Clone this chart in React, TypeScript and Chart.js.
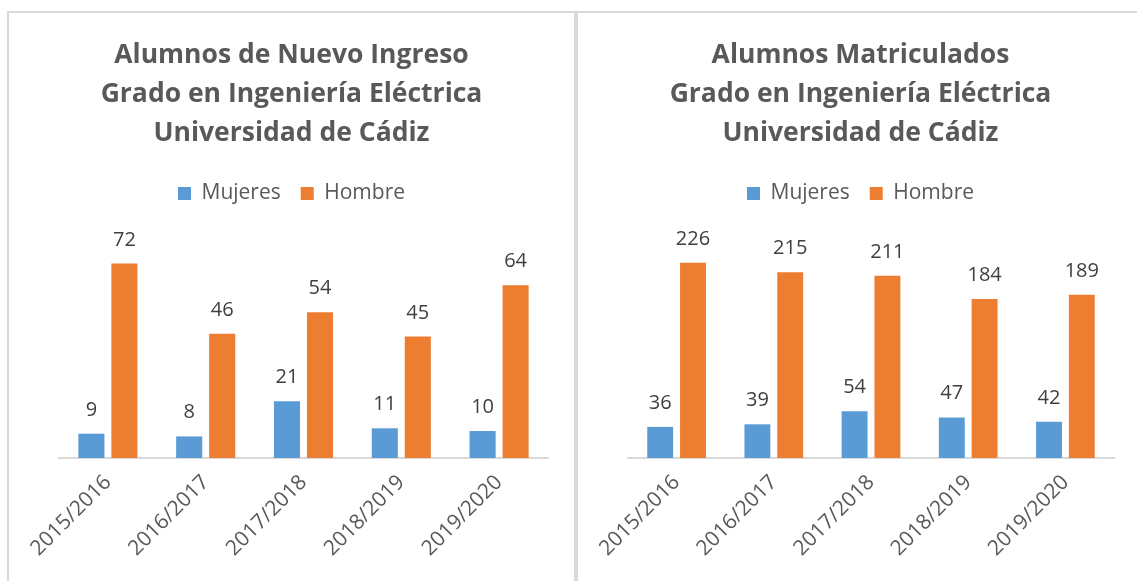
import React, { useEffect, useRef } from 'react';
import { Chart, registerables } from 'chart.js';

Chart.register(...registerables);

const categories = ['2015/2016', '2016/2017', '2017/2018', '2018/2019', '2019/2020'];
const seriesNames = ['Mujeres', 'Hombre'];
const nuevoMujeres = [9, 8, 21, 11, 10];
const nuevoHombre = [72, 46, 54, 45, 64];
const matMujeres = [36, 39, 54, 47, 42];
const matHombre = [226, 215, 211, 184, 189];
const titleNuevo = ['Alumnos de Nuevo Ingreso', 'Grado en Ingeniería Eléctrica', 'Universidad de Cádiz'];
const titleMatric = ['Alumnos Matriculados', 'Grado en Ingeniería Eléctrica', 'Universidad de Cádiz'];
const yMaxNuevo = 80;
const yMaxMatric = 250;

const FONT = 'Open Sans';
const CANVAS_W = 565;
const CANVAS_H = 568;

const valueLabels = {
  id: 'valueLabels',
  afterDatasetsDraw(chart: any) {
    const ctx = chart.ctx;
    ctx.save();
    ctx.font = `20px "${FONT}"`;
    ctx.fillStyle = '#404040';
    ctx.textAlign = 'center';
    ctx.textBaseline = 'alphabetic';
    chart.data.datasets.forEach((ds: any, i: number) => {
      const meta = chart.getDatasetMeta(i);
      meta.data.forEach((el: any, j: number) => {
        ctx.fillText(String(ds.data[j]), el.x, el.y - 18);
      });
    });
    ctx.restore();
  },
};

function BarPanel(props: { title: string[]; mujeres: number[]; hombre: number[]; yMax: number; rightGap: number }) {
  const ref = useRef<HTMLCanvasElement | null>(null);
  useEffect(() => {
    if (!ref.current) return;
    const chart = new Chart(ref.current, {
      type: 'bar',
      data: {
        labels: categories,
        datasets: [
          {
            label: seriesNames[0],
            data: props.mujeres,
            backgroundColor: '#5b9bd5',
            categoryPercentage: 0.675,
            barPercentage: 0.79,
            xAxisID: 'x',
            yAxisID: 'y',
          },
          {
            label: seriesNames[1],
            data: props.hombre,
            backgroundColor: '#ed7d31',
            categoryPercentage: 0.675,
            barPercentage: 0.79,
            xAxisID: 'x',
            yAxisID: 'y',
          },
        ],
      },
      options: {
        responsive: false,
        animation: false,
        layout: { padding: 0 },
        plugins: {
          title: {
            display: true,
            text: props.title,
            color: '#595959',
            font: { family: FONT, size: 26.5, weight: 'bold', lineHeight: 39 / 26.5 },
            padding: { top: 23, bottom: 10 },
          },
          legend: {
            display: true,
            position: 'top',
            labels: {
              color: '#595959',
              font: { family: FONT, size: 21 },
              boxWidth: 13,
              boxHeight: 13,
              padding: 20,
            },
          },
          tooltip: { enabled: false },
        },
        scales: {
          x: {
            type: 'category',
            position: 'bottom',
            grid: { display: false },
            border: { display: true, color: '#d9d9d9', width: 2 },
            ticks: {
              color: '#595959',
              font: { family: FONT, size: 21 },
              minRotation: 45,
              maxRotation: 45,
              autoSkip: false,
              padding: 4,
            },
            afterFit: (s: any) => {
              s.height = 123;
            },
          },
          xTop: {
            type: 'category',
            position: 'top',
            grid: { display: false },
            border: { display: false },
            ticks: { display: false },
            afterFit: (s: any) => {
              s.height = 28;
            },
          },
          y: {
            type: 'linear',
            position: 'left',
            min: 0,
            max: props.yMax,
            grid: { display: false },
            border: { display: false },
            ticks: { display: false },
            afterFit: (s: any) => {
              s.width = 50;
            },
          },
          yRight: {
            type: 'linear',
            position: 'right',
            grid: { display: false },
            border: { display: false },
            ticks: { display: false },
            afterFit: (s: any) => {
              s.width = props.rightGap;
            },
          },
        },
      } as any,
      plugins: [valueLabels],
    });
    return () => chart.destroy();
  }, []);
  return <canvas ref={ref} width={CANVAS_W} height={CANVAS_H} style={{ display: 'block' }} />;
}

export default function App() {
  const border = '2px solid #d9d9d9';
  return (
    <div
      style={{
        position: 'absolute',
        left: 0,
        top: 0,
        width: 1137,
        height: 581,
        overflow: 'hidden',
        background: '#ffffff',
      }}
    >
      <div
        style={{
          position: 'absolute',
          left: 7,
          top: 11,
          width: CANVAS_W,
          height: CANVAS_H,
          borderLeft: border,
          borderTop: border,
          borderRight: border,
        }}
      >
        <BarPanel title={titleNuevo} mujeres={nuevoMujeres} hombre={nuevoHombre} yMax={yMaxNuevo} rightGap={26} />
      </div>
      <div
        style={{
          position: 'absolute',
          left: 576,
          top: 11,
          width: CANVAS_W,
          height: CANVAS_H,
          borderLeft: border,
          borderTop: border,
        }}
      >
        <BarPanel title={titleMatric} mujeres={matMujeres} hombre={matHombre} yMax={yMaxMatric} rightGap={29} />
      </div>
    </div>
  );
}
